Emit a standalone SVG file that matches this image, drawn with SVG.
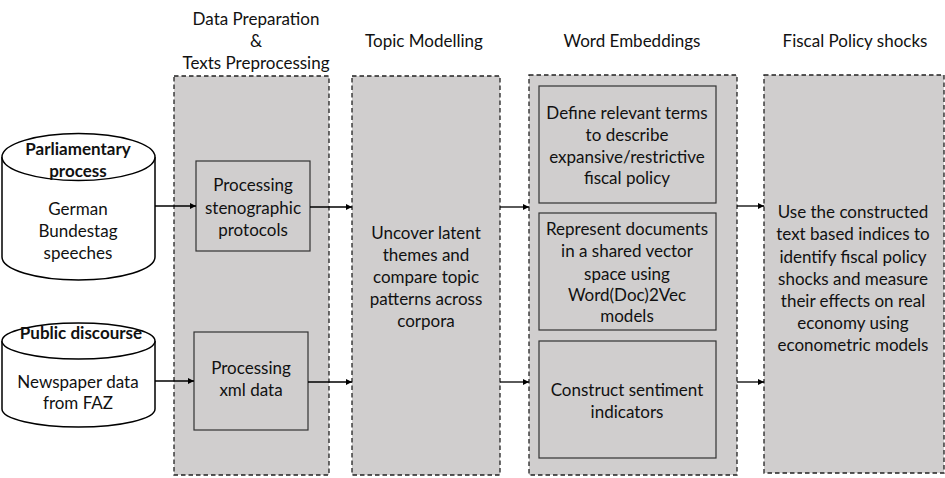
<svg xmlns="http://www.w3.org/2000/svg" width="945" height="478" viewBox="0 0 945 478">
<defs>
<marker id="ah" viewBox="0 0 10 10" refX="10" refY="5" markerWidth="6" markerHeight="6" markerUnits="userSpaceOnUse" orient="auto"><path d="M0,0 L10,5 L0,10 z" fill="#000"/></marker>
<style>
text{font-family:Lato,"Liberation Sans",Arial,sans-serif;font-size:17px;fill:#111;text-anchor:middle;dominant-baseline:central}
.b{font-weight:bold;font-size:17px}
.panel{fill:#d0cece;stroke:#222;stroke-width:1.3;stroke-dasharray:4.5 3}
.box{fill:#d0cece;stroke:#333;stroke-width:1.2}
.cyl{fill:#fff;stroke:#000;stroke-width:1.5}
.conn{stroke:#000;stroke-width:1.3;fill:none;marker-end:url(#ah)}
</style>
</defs>
<rect width="945" height="478" fill="#fff"/>
<g id="headers">
<text x="256" y="18">Data Preparation</text>
<text x="256" y="40">&amp;</text>
<text x="256" y="62">Texts Preprocessing</text>
<text x="424" y="40">Topic Modelling</text>
<text x="632" y="40">Word Embeddings</text>
<text x="855" y="40">Fiscal Policy shocks</text>
</g>
<g id="panel-prep"><rect class="panel" x="174" y="76" width="155" height="399"/></g>
<g id="panel-topic"><rect class="panel" x="352" y="76" width="148" height="399"/>
<text x="426" y="232">Uncover latent</text><text x="426" y="254">themes and</text><text x="426" y="276">compare topic</text><text x="426" y="298">patterns across</text><text x="426" y="320">corpora</text></g>
<g id="panel-embed"><rect class="panel" x="529" y="75" width="208" height="400"/></g>
<g id="panel-fiscal"><rect class="panel" x="764" y="75" width="180" height="398"/>
<text x="853" y="211">Use the constructed</text><text x="853" y="233">text based indices to</text><text x="853" y="256">identify fiscal policy</text><text x="853" y="278">shocks and measure</text><text x="853" y="300">their effects on real</text><text x="853" y="322">economy using</text><text x="853" y="344">econometric models</text></g>
<g id="cyl-parliament">
<path class="cyl" d="M2,157 L2,257 A76.5,23 0 0 0 155,257 L155,157"/>
<ellipse class="cyl" cx="78.5" cy="157" rx="76.5" ry="23.5"/>
<text class="b" x="78" y="148">Parliamentary</text><text class="b" x="78" y="170">process</text>
<text x="78" y="208">German</text><text x="78" y="230">Bundestag</text><text x="78" y="252">speeches</text>
</g>
<g id="cyl-public">
<path class="cyl" d="M2,341 L2,409 A76.5,18 0 0 0 155,409 L155,341"/>
<ellipse class="cyl" cx="78.5" cy="341" rx="76.5" ry="18"/>
<text class="b" x="81" y="332">Public discourse</text>
<text x="78" y="381">Newspaper data</text><text x="78" y="402">from FAZ</text>
</g>
<g id="box-steno"><rect class="box" x="196" y="161" width="114" height="90"/>
<text x="253" y="184">Processing</text><text x="253" y="207">stenographic</text><text x="253" y="229">protocols</text></g>
<g id="box-xml"><rect class="box" x="194" y="332" width="114" height="98"/>
<text x="251" y="367">Processing</text><text x="251" y="389">xml data</text></g>
<g id="box-terms"><rect class="box" x="539" y="86" width="177" height="117"/>
<text x="627" y="112">Define relevant terms</text><text x="627" y="134">to describe</text><text x="627" y="156">expansive/restrictive</text><text x="627" y="177">fiscal policy</text></g>
<g id="box-vec"><rect class="box" x="539" y="213" width="177" height="117"/>
<text x="627" y="228">Represent documents</text><text x="627" y="250">in a shared vector</text><text x="627" y="273">space using</text><text x="627" y="294">Word(Doc)2Vec</text><text x="627" y="315">models</text></g>
<g id="box-sent"><rect class="box" x="539" y="341" width="177" height="117"/>
<text x="627" y="389">Construct sentiment</text><text x="627" y="411">indicators</text></g>
<g id="connectors">
<line class="conn" x1="155" y1="206" x2="196" y2="206"/>
<line class="conn" x1="310" y1="207" x2="352" y2="207"/>
<line class="conn" x1="155" y1="381" x2="194" y2="381"/>
<line class="conn" x1="308" y1="382" x2="352" y2="382"/>
<line class="conn" x1="500" y1="207" x2="529" y2="207"/>
<line class="conn" x1="500" y1="382" x2="529" y2="382"/>
<line class="conn" x1="737" y1="206" x2="764" y2="206"/>
<line class="conn" x1="737" y1="382" x2="764" y2="382"/>
</g>
</svg>
